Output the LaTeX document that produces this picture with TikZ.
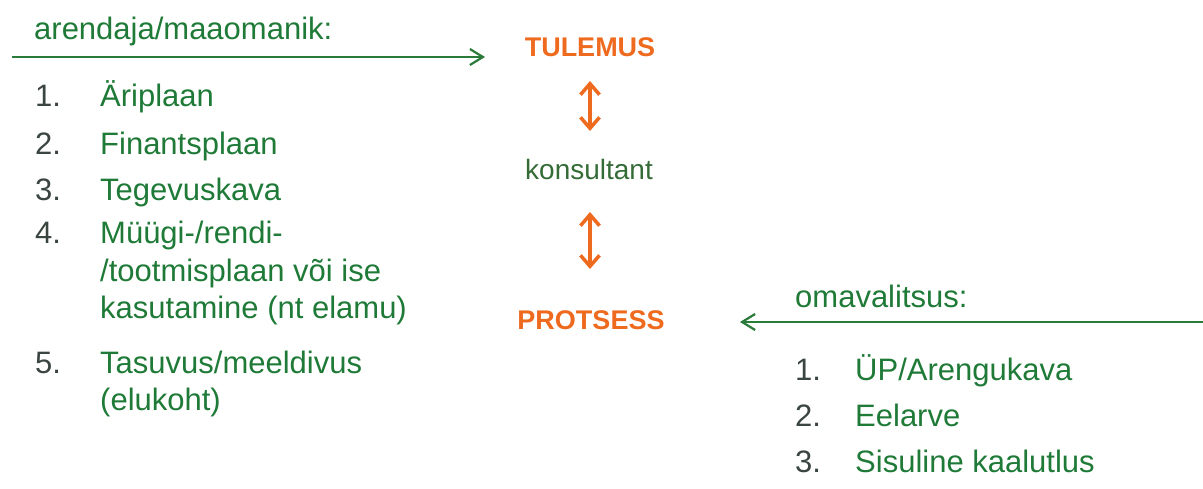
\documentclass[tikz,border=0pt]{standalone}
\usepackage{fontspec}
\setmainfont{Liberation Sans}
\usetikzlibrary{arrows.meta}
\definecolor{txtgreen}{HTML}{1F7A38}
\definecolor{numgray}{HTML}{3A4540}
\definecolor{konsgreen}{HTML}{356B37}
\definecolor{accent}{HTML}{EE6A1F}
\definecolor{linegreen}{HTML}{2A7A3A}
\tikzset{
  item/.style={anchor=base west, inner sep=0pt, text=txtgreen, font=\fontsize{31}{37}\selectfont},
  num/.style={anchor=base west, inner sep=0pt, text=numgray, font=\fontsize{31}{37}\selectfont},
  head/.style={anchor=center, inner sep=0pt, text=accent, font=\fontsize{27}{32}\selectfont\bfseries},
  flow/.style={draw=linegreen, line width=2.2pt, -{Straight Barb[length=13pt,width=16pt,line width=2.2pt]}},
  link/.style={draw=accent, line width=3.5pt, {Straight Barb[length=11pt,width=19pt,line width=3.5pt]}-{Straight Barb[length=11pt,width=19pt,line width=3.5pt]}}
}
\begin{document}
\begin{tikzpicture}[x=1pt,y=-1pt]
\useasboundingbox (0,0) rectangle (1203,488);

% left party: developer / landowner
\node[item] (lhead) at (34,39) {arendaja/maaomanik:};
\coordinate (lstart) at (12,57);
\coordinate (lend) at (485,57);
\draw[flow] (lstart) -- (lend);

\node[num] (ln1) at (35,106) {1.};
\node[item] (lt1) at (100,106) {Äriplaan};
\node[num] (ln2) at (35,154) {2.};
\node[item] (lt2) at (100,154) {Finantsplaan};
\node[num] (ln3) at (35,200) {3.};
\node[item] (lt3) at (100,200) {Tegevuskava};
\node[num] (ln4) at (35,243) {4.};
\node[item] (lt4a) at (100,243) {Müügi-/rendi-};
\node[item] (lt4b) at (100,281) {/tootmisplaan või ise};
\node[item] (lt4c) at (100,318) {kasutamine (nt elamu)};
\node[num] (ln5) at (35,373) {5.};
\node[item] (lt5a) at (100,373) {Tasuvus/meeldivus};
\node[item] (lt5b) at (100,410) {(elukoht)};

% centre column
\node[head] (tul) at (590,47) {TULEMUS};
\node[anchor=center, inner sep=0pt, text=konsgreen, font=\fontsize{28}{33}\selectfont] (kons) at (589,169) {konsultant};
\node[head] (prot) at (591,320) {PROTSESS};

\coordinate (a1t) at (590,81);
\coordinate (a1b) at (590,131);
\coordinate (a2t) at (590,212);
\coordinate (a2b) at (590,269);
\draw[link] (a1t) -- (a1b);
\draw[link] (a2t) -- (a2b);

% right party: municipality
\node[item] (rhead) at (795,307) {omavalitsus:};
\coordinate (rstart) at (1203,322);
\coordinate (rend) at (740,322);
\draw[flow] (rstart) -- (rend);

\node[num] (rn1) at (795,380) {1.};
\node[item] (rt1) at (855,380) {ÜP/Arengukava};
\node[num] (rn2) at (795,426) {2.};
\node[item] (rt2) at (855,426) {Eelarve};
\node[num] (rn3) at (795,472) {3.};
\node[item] (rt3) at (855,472) {Sisuline kaalutlus};
\end{tikzpicture}
\end{document}
